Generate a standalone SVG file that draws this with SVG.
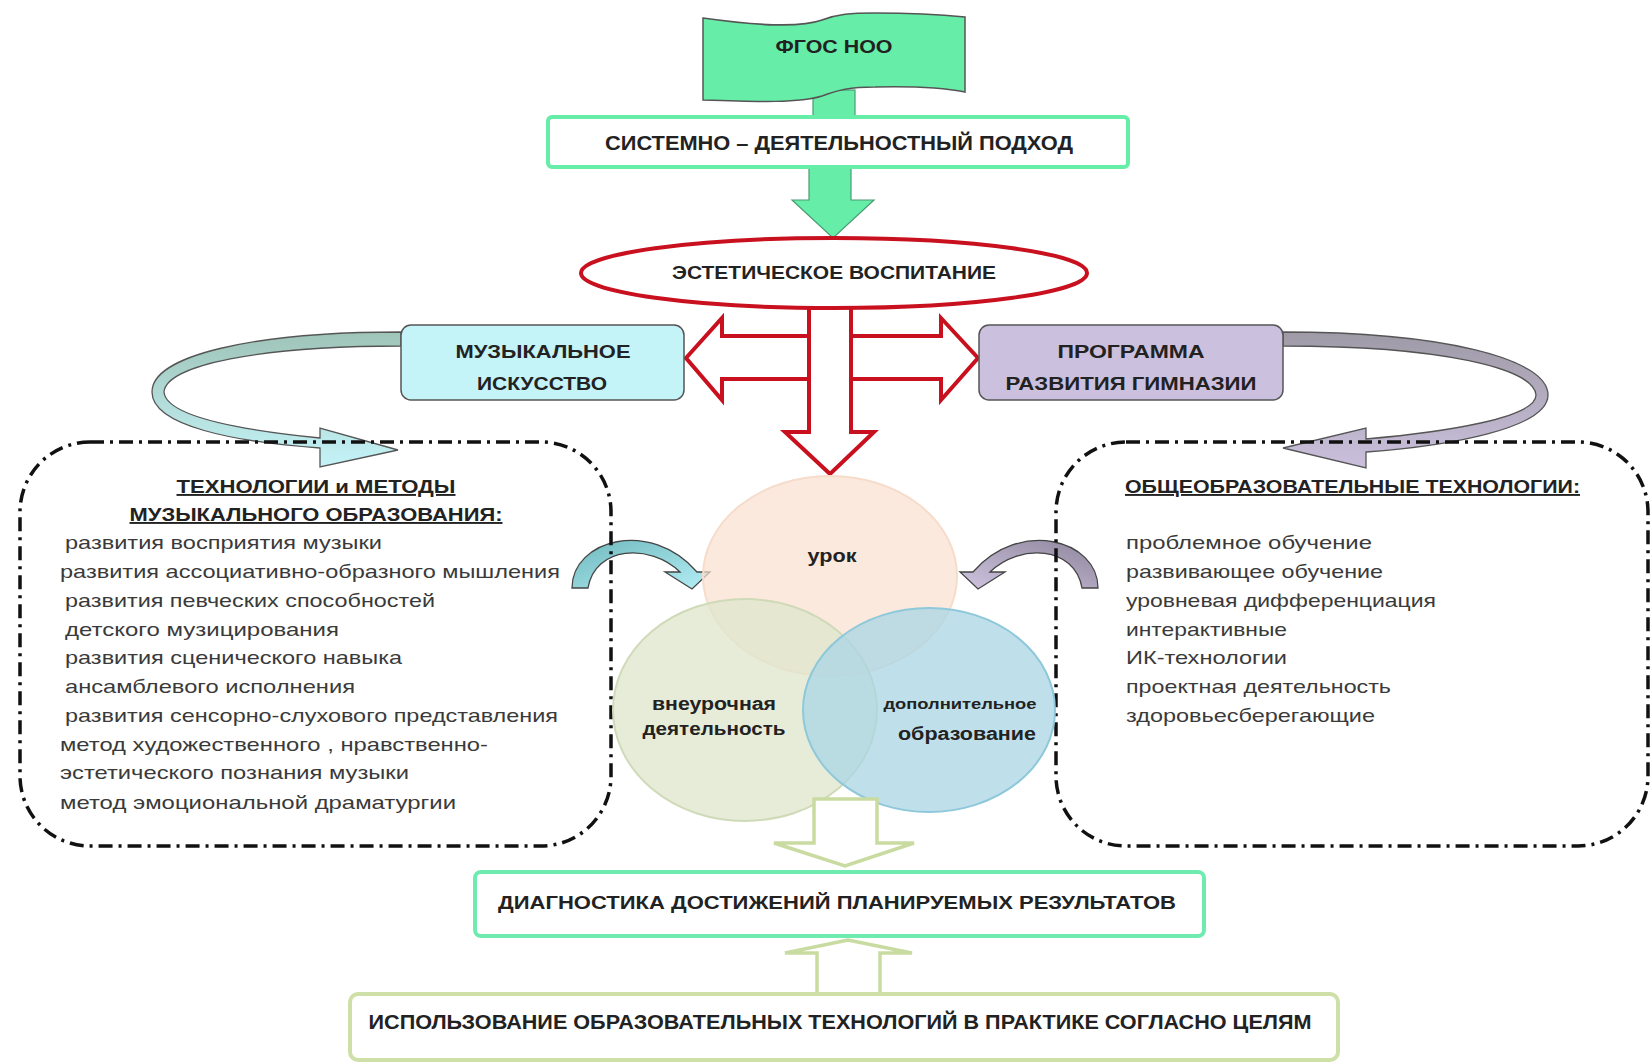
<svg xmlns="http://www.w3.org/2000/svg" width="1652" height="1064" viewBox="0 0 1652 1064">
<defs>
<style>
.b{font-family:"Liberation Sans",Arial,sans-serif;font-weight:bold;fill:#222}
.n{font-family:"Liberation Sans",Arial,sans-serif;fill:#3a3a3a;font-size:19px}
.dash{fill:none;stroke:#111;stroke-width:3.5;stroke-dasharray:14 6 3 6}
.red{fill:#fff;stroke:#C8101E;stroke-width:4;stroke-linejoin:miter}
.olive{fill:#fff;stroke:#C9DBA0;stroke-width:3.5}
</style>
<linearGradient id="gc" x1="0" y1="0" x2="0" y2="1">
<stop offset="0" stop-color="#9FC4B8"/><stop offset="1" stop-color="#C4F3F8"/>
</linearGradient>
<linearGradient id="gp" x1="0" y1="0" x2="0" y2="1">
<stop offset="0" stop-color="#9E9AA6"/><stop offset="1" stop-color="#CBC0DD"/>
</linearGradient>
<linearGradient id="gt" x1="0" y1="0" x2="1" y2="1">
<stop offset="0" stop-color="#6FB9BE"/><stop offset="1" stop-color="#B4EEF5"/>
</linearGradient>
<linearGradient id="gl" x1="0" y1="0" x2="1" y2="1">
<stop offset="0" stop-color="#8E869C"/><stop offset="1" stop-color="#CFC4E0"/>
</linearGradient>
</defs>
<rect width="1652" height="1064" fill="#fff"/>

<g id="connectors">
<rect x="813" y="90" width="42" height="30" fill="#66EEA8" stroke="#4A9C74" stroke-width="1.2"/>
<path d="M809 166 L851 166 L851 200 L874 200 L833 238 L792 200 L809 200 Z" fill="#66EEA8" stroke="#4A9C74" stroke-width="1.2"/>
<path class="red" d="M686 358 L722 318 L722 336 L941 336 L941 318 L978 358 L941 400 L941 379 L722 379 L722 400 Z"/>
<path class="red" d="M809 290 L851 290 L851 432 L874 432 L830 474 L785 432 L809 432 Z"/>
<path d="M401 332 C250 332 152 356 152 392 C152 426 235 442 320 448 L320 467 L398 450 L320 428 L320 438 C240 430 166 416 164 392 C166 365 260 346 401 346 Z" fill="url(#gc)" stroke="#555" stroke-width="1.3"/>
<path d="M1283 332 C1440 332 1548 358 1548 395 C1548 428 1450 446 1366 452 L1366 468 L1283 448 L1366 428 L1366 439 C1445 432 1536 418 1536 395 C1534 368 1440 346 1283 346 Z" fill="url(#gp)" stroke="#555" stroke-width="1.3"/>
<path d="M572 588 C572 540 650 518 697 572 L710 572 L692 589 L665 572 L680 572 C650 543 595 546 588 588 Z" fill="url(#gt)" stroke="#444" stroke-width="1.3"/>
<path transform="translate(1670,0) scale(-1,1)" d="M572 588 C572 540 650 518 697 572 L710 572 L692 589 L665 572 L680 572 C650 543 595 546 588 588 Z" fill="url(#gl)" stroke="#444" stroke-width="1.3"/>
</g>

<g id="flag">
<path d="M703 18 C760 26 800 28 822 20 C838 14 850 13 875 13 C920 13 945 15 965 17 L965 92 C945 88 920 86 875 87 C850 87 838 90 822 96 C800 103 760 102 703 100 Z" fill="#66EEA8" stroke="#555" stroke-width="1.5"/>
<text class="b" x="834" y="53" font-size="19" text-anchor="middle" textLength="117" lengthAdjust="spacingAndGlyphs">ФГОС НОО</text>
</g>

<g id="approach">
<rect x="548" y="117" width="580" height="50" rx="4" fill="#fff" stroke="#66EEA8" stroke-width="4"/>
<text class="b" x="839" y="150" font-size="20" text-anchor="middle" textLength="468" lengthAdjust="spacingAndGlyphs">СИСТЕМНО – ДЕЯТЕЛЬНОСТНЫЙ ПОДХОД</text>
</g>

<g id="aesthetic">
<ellipse cx="834" cy="273" rx="253" ry="35" fill="#fff" stroke="#C8101E" stroke-width="4"/>
<text class="b" x="834" y="279" font-size="19" text-anchor="middle" textLength="324" lengthAdjust="spacingAndGlyphs">ЭСТЕТИЧЕСКОЕ ВОСПИТАНИЕ</text>
</g>

<g id="music">
<rect x="401" y="325" width="283" height="75" rx="10" fill="#C4F3F8" stroke="#555" stroke-width="1.5"/>
<text class="b" x="543" y="358" font-size="19" text-anchor="middle" textLength="175" lengthAdjust="spacingAndGlyphs">МУЗЫКАЛЬНОЕ</text>
<text class="b" x="542" y="390" font-size="19" text-anchor="middle" textLength="130" lengthAdjust="spacingAndGlyphs">ИСКУССТВО</text>
</g>

<g id="program">
<rect x="979" y="325" width="304" height="75" rx="10" fill="#CBC0DD" stroke="#555" stroke-width="1.5"/>
<text class="b" x="1131" y="358" font-size="19" text-anchor="middle" textLength="147" lengthAdjust="spacingAndGlyphs">ПРОГРАММА</text>
<text class="b" x="1131" y="390" font-size="19" text-anchor="middle" textLength="251" lengthAdjust="spacingAndGlyphs">РАЗВИТИЯ ГИМНАЗИИ</text>
</g>

<g id="music-methods">
<rect class="dash" x="20" y="442" width="591" height="404" rx="70"/>
<text class="b" x="316" y="493" font-size="19" text-anchor="middle" text-decoration="underline" textLength="279" lengthAdjust="spacingAndGlyphs">ТЕХНОЛОГИИ и МЕТОДЫ</text>
<text class="b" x="316" y="521" font-size="19" text-anchor="middle" text-decoration="underline" textLength="373" lengthAdjust="spacingAndGlyphs">МУЗЫКАЛЬНОГО ОБРАЗОВАНИЯ:</text>
<text class="n" x="65" y="549" textLength="317" lengthAdjust="spacingAndGlyphs">развития восприятия музыки</text>
<text class="n" x="60" y="578" textLength="500" lengthAdjust="spacingAndGlyphs">развития ассоциативно-образного мышления</text>
<text class="n" x="65" y="607" textLength="370" lengthAdjust="spacingAndGlyphs">развития певческих способностей</text>
<text class="n" x="65" y="636" textLength="274" lengthAdjust="spacingAndGlyphs">детского музицирования</text>
<text class="n" x="65" y="664" textLength="337" lengthAdjust="spacingAndGlyphs">развития сценического навыка</text>
<text class="n" x="65" y="693" textLength="290" lengthAdjust="spacingAndGlyphs">ансамблевого исполнения</text>
<text class="n" x="65" y="722" textLength="493" lengthAdjust="spacingAndGlyphs">развития сенсорно-слухового представления</text>
<text class="n" x="60" y="751" textLength="428" lengthAdjust="spacingAndGlyphs">метод художественного , нравственно-</text>
<text class="n" x="60" y="779" textLength="349" lengthAdjust="spacingAndGlyphs">эстетического познания музыки</text>
<text class="n" x="60" y="809" textLength="396" lengthAdjust="spacingAndGlyphs">метод эмоциональной драматургии</text>
</g>

<g id="general-tech">
<rect class="dash" x="1056" y="442" width="592" height="404" rx="70"/>
<text class="b" x="1125" y="493" font-size="19" text-decoration="underline" textLength="455" lengthAdjust="spacingAndGlyphs">ОБЩЕОБРАЗОВАТЕЛЬНЫЕ ТЕХНОЛОГИИ:</text>
<text class="n" x="1126" y="549" textLength="246" lengthAdjust="spacingAndGlyphs">проблемное обучение</text>
<text class="n" x="1126" y="578" textLength="257" lengthAdjust="spacingAndGlyphs">развивающее обучение</text>
<text class="n" x="1126" y="607" textLength="310" lengthAdjust="spacingAndGlyphs">уровневая дифференциация</text>
<text class="n" x="1126" y="636" textLength="161" lengthAdjust="spacingAndGlyphs">интерактивные</text>
<text class="n" x="1126" y="664" textLength="161" lengthAdjust="spacingAndGlyphs">ИК-технологии</text>
<text class="n" x="1126" y="693" textLength="265" lengthAdjust="spacingAndGlyphs">проектная деятельность</text>
<text class="n" x="1126" y="722" textLength="249" lengthAdjust="spacingAndGlyphs">здоровьесберегающие</text>
</g>

<g id="lesson">
<ellipse cx="830" cy="576" rx="127" ry="100" fill="#FBE0CE" fill-opacity="0.7" stroke="#F6DCCB" stroke-width="2"/>
<text class="b" x="832" y="562" font-size="18" text-anchor="middle" textLength="49" lengthAdjust="spacingAndGlyphs">урок</text>
</g>

<g id="extracurricular">
<ellipse cx="745" cy="710" rx="132" ry="111" fill="#DFE6CC" fill-opacity="0.75" stroke="#CFDAB8" stroke-width="2"/>
<text class="b" x="714" y="710" font-size="18" text-anchor="middle" textLength="124" lengthAdjust="spacingAndGlyphs">внеурочная</text>
<text class="b" x="714" y="735" font-size="18" text-anchor="middle" textLength="143" lengthAdjust="spacingAndGlyphs">деятельность</text>
</g>

<g id="additional">
<ellipse cx="929" cy="710" rx="126" ry="102" fill="#A9D6E4" fill-opacity="0.75" stroke="#8FC8DA" stroke-width="2"/>
<text class="b" x="960" y="709" font-size="15" text-anchor="middle" textLength="153" lengthAdjust="spacingAndGlyphs">дополнительное</text>
<text class="b" x="967" y="740" font-size="18" text-anchor="middle" textLength="138" lengthAdjust="spacingAndGlyphs">образование</text>
</g>

<g id="connectors-bottom">
<path class="olive" d="M814 799 L877 799 L877 843 L914 843 L845 866 L774 843 L814 843 Z"/>
<path class="olive" d="M817 994 L880 994 L880 953 L912 953 L848 940 L785 953 L817 953 Z"/>
</g>

<g id="diagnostics">
<rect x="475" y="872" width="729" height="64" rx="6" fill="#fff" stroke="#6EEBAE" stroke-width="4"/>
<text class="b" x="837" y="909" font-size="19" text-anchor="middle" textLength="678" lengthAdjust="spacingAndGlyphs">ДИАГНОСТИКА ДОСТИЖЕНИЙ ПЛАНИРУЕМЫХ РЕЗУЛЬТАТОВ</text>
</g>

<g id="usage">
<rect x="350" y="994" width="988" height="66" rx="8" fill="#fff" stroke="#CFDFA8" stroke-width="4"/>
<text class="b" x="840" y="1029" font-size="20" text-anchor="middle" textLength="943" lengthAdjust="spacingAndGlyphs">ИСПОЛЬЗОВАНИЕ ОБРАЗОВАТЕЛЬНЫХ ТЕХНОЛОГИЙ В ПРАКТИКЕ СОГЛАСНО ЦЕЛЯМ</text>
</g>
</svg>
